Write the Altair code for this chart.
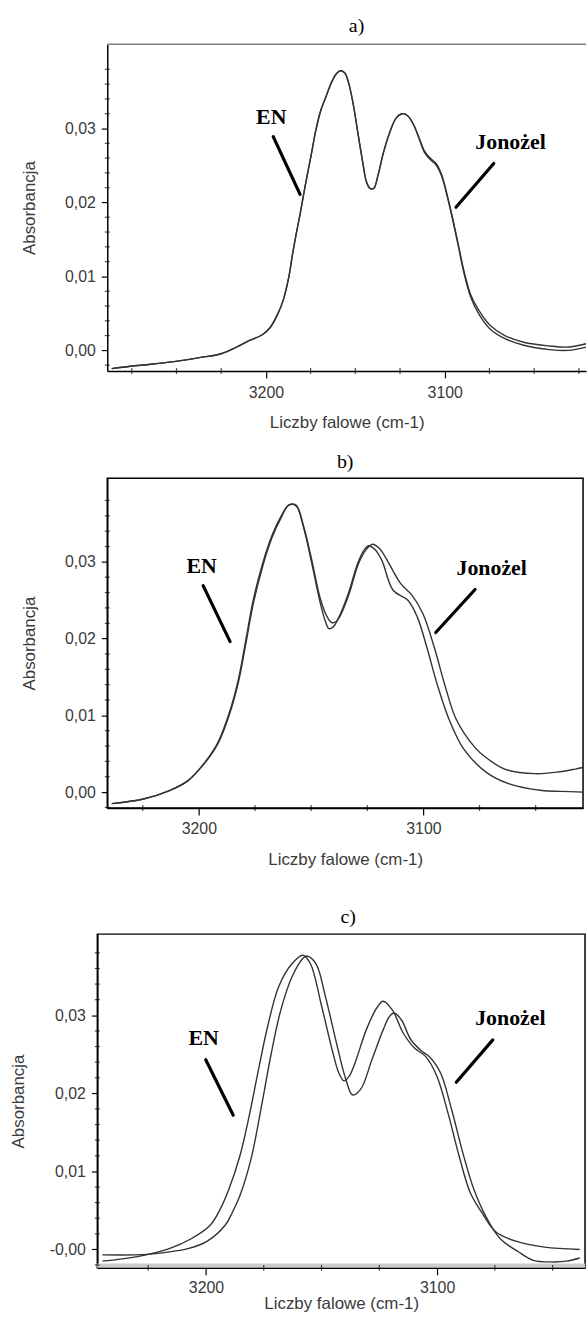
import altair as alt
import pandas as pd

# ---------------- data ----------------
# Panel a
A_WN1 = [3286.2, 3275.7, 3264.3, 3250.3, 3237.2, 3225.1, 3216.4, 3209.1, 3201.8, 3197.6, 3193.4, 3190.3,
         3187.2, 3185.1, 3183.1, 3180.9, 3178.9, 3176.8, 3174.7, 3172.2, 3169.5, 3166.4, 3163.2, 3160.6,
         3158.4, 3155.9, 3153.9, 3151.4, 3148.7, 3145.9, 3143.8, 3141.8, 3139.7, 3137.2, 3134.1, 3131.0,
         3127.2, 3123.7, 3120.6, 3117.4, 3114.3, 3111.2, 3108.1, 3104.9, 3101.8, 3098.7, 3095.6, 3092.4,
         3089.3, 3085.6, 3080.9, 3074.7, 3066.4, 3055.9, 3041.4, 3030.9, 3020.9]
A_AB1 = [-0.00246, -0.00215, -0.00188, -0.00148, -0.00098, -0.00045, 0.00045, 0.00134, 0.00215, 0.0031,
         0.0049, 0.0068, 0.0099, 0.0130, 0.0157, 0.0184, 0.0211, 0.0238, 0.0264, 0.0296, 0.0323, 0.0343,
         0.0363, 0.0374, 0.0378, 0.0375, 0.0363, 0.0336, 0.0296, 0.0255, 0.0228, 0.0219, 0.0219, 0.0238,
         0.0269, 0.0293, 0.0314, 0.0320, 0.0317, 0.0305, 0.0287, 0.0269, 0.0260, 0.0253, 0.0238, 0.0211,
         0.0179, 0.0143, 0.0108, 0.0076, 0.0054, 0.0034, 0.0020, 0.0011, 0.0006, 0.00045, 0.0009]
A_WN2 = [3286.2, 3275.7, 3264.3, 3250.3, 3237.2, 3225.1, 3216.4, 3209.1, 3201.8, 3197.6, 3193.4, 3190.3,
         3187.2, 3185.1, 3183.1, 3180.9, 3178.9, 3176.8, 3174.7, 3172.2, 3169.5, 3166.4, 3163.2, 3160.6,
         3158.4, 3155.9, 3153.9, 3151.4, 3148.7, 3145.9, 3143.8, 3141.8, 3139.7, 3137.2, 3134.1, 3131.0,
         3127.2, 3123.7, 3120.6, 3117.4, 3114.3, 3111.2, 3108.1, 3104.9, 3101.8, 3098.7, 3095.6, 3092.4,
         3089.3, 3085.6, 3080.9, 3074.7, 3066.4, 3055.9, 3041.4, 3030.9, 3020.9]
A_AB2 = [-0.00246, -0.00215, -0.00188, -0.00148, -0.00098, -0.00045, 0.00045, 0.00134, 0.00215, 0.0031,
         0.0049, 0.0068, 0.0099, 0.0130, 0.0157, 0.0184, 0.0211, 0.0238, 0.0264, 0.0296, 0.0323, 0.0343,
         0.0363, 0.0374, 0.0378, 0.0375, 0.0363, 0.0336, 0.0296, 0.0255, 0.0228, 0.0219, 0.0219, 0.0238,
         0.0269, 0.0293, 0.0314, 0.0320, 0.0317, 0.0305, 0.0286, 0.0267, 0.0258, 0.0251, 0.0236, 0.0209,
         0.0177, 0.0141, 0.0105, 0.0073, 0.0049, 0.0029, 0.0016, 0.0007, 0.0001, 0.0000, 0.00045]

# Panel b
B_WN1 = [3238.8, 3224.7, 3213.1, 3204.8, 3197.3, 3191.5, 3186.5, 3182.4, 3179.1, 3175.8, 3171.6, 3167.5,
         3163.3, 3160.0, 3156.7, 3153.4, 3150.0, 3145.9, 3143.6, 3142.1, 3140.3, 3137.6, 3133.4, 3129.3,
         3126.5, 3124.3, 3121.6, 3118.5, 3113.5, 3106.9, 3102.7, 3098.6, 3093.6, 3088.6, 3082.0, 3072.1,
         3062.1, 3047.2, 3038.9, 3028.9]
B_AB1 = [-0.0015, -0.0009, 0.0002, 0.0015, 0.0039, 0.0065, 0.0103, 0.0147, 0.0198, 0.0250, 0.0298, 0.0334,
         0.0360, 0.0374, 0.0373, 0.0345, 0.0302, 0.0246, 0.0222, 0.0213, 0.0215, 0.0228, 0.0259, 0.0298,
         0.0315, 0.0321, 0.0316, 0.0302, 0.0263, 0.0250, 0.0228, 0.0190, 0.0138, 0.0095, 0.0056, 0.0026,
         0.0011, 0.0002, 0.0001, 0.0000]
B_WN2 = [3238.8, 3224.7, 3213.1, 3204.8, 3197.3, 3191.5, 3186.5, 3182.4, 3179.1, 3175.8, 3171.6, 3167.5,
         3163.3, 3160.0, 3156.7, 3153.4, 3150.0, 3145.9, 3142.8, 3140.9, 3139.0, 3137.0, 3133.0, 3129.0,
         3125.5, 3122.7, 3119.8, 3116.9, 3110.2, 3105.2, 3100.3, 3095.3, 3090.3, 3085.4, 3077.0, 3072.1,
         3063.8, 3050.5, 3040.5, 3032.3, 3028.9]
B_AB2 = [-0.0015, -0.0009, 0.0002, 0.0015, 0.0038, 0.0063, 0.0100, 0.0143, 0.0193, 0.0245, 0.0294, 0.0331,
         0.0358, 0.0374, 0.0374, 0.0347, 0.0306, 0.0252, 0.0228, 0.0221, 0.0222, 0.0230, 0.0259, 0.0297,
         0.0316, 0.0323, 0.0318, 0.0306, 0.0272, 0.0257, 0.0233, 0.0190, 0.0138, 0.0095, 0.0058, 0.0045,
         0.0030, 0.0024, 0.0026, 0.0030, 0.0032]

# Panel c
C_WN1 = [3244.8, 3230.3, 3215.9, 3206.2, 3198.2, 3194.1, 3190.1, 3185.3, 3181.3, 3177.3, 3173.3, 3168.5,
         3162.8, 3158.0, 3154.8, 3149.9, 3145.1, 3142.5, 3140.3, 3138.0, 3135.5, 3130.7, 3126.0, 3123.4,
         3119.4, 3114.6, 3109.8, 3104.9, 3100.1, 3095.3, 3090.5, 3085.7, 3080.8, 3074.4, 3064.8, 3053.5,
         3038.3]
C_AB1 = [-0.0015, -0.00096, 0.0001, 0.0014, 0.0031, 0.0050, 0.0077, 0.0120, 0.0171, 0.0230, 0.0286, 0.0337,
         0.0366, 0.0377, 0.0366, 0.0311, 0.0252, 0.0226, 0.0216, 0.0222, 0.0239, 0.0281, 0.0310, 0.0318,
         0.0307, 0.0277, 0.0258, 0.0247, 0.0222, 0.0175, 0.0120, 0.0073, 0.0048, 0.0022, 0.00096, 0.0003,
         0.0000]
C_WN2 = [3244.8, 3231.0, 3220.7, 3207.8, 3199.8, 3191.7, 3188.5, 3185.3, 3180.5, 3175.7, 3171.7, 3167.6,
         3162.8, 3158.0, 3156.4, 3152.4, 3148.3, 3143.5, 3139.5, 3136.6, 3133.1, 3128.2, 3123.4, 3120.5,
         3118.6, 3115.4, 3111.4, 3106.6, 3103.3, 3098.5, 3093.7, 3088.9, 3084.1, 3079.2, 3072.8, 3064.8,
         3058.3, 3050.3, 3043.9, 3038.3]
C_AB2 = [-0.0007, -0.0007, -0.0005, 0.0001, 0.0010, 0.0031, 0.0048, 0.0069, 0.0116, 0.0188, 0.0252, 0.0307,
         0.0349, 0.0373, 0.0376, 0.0366, 0.0324, 0.0264, 0.0218, 0.0198, 0.0205, 0.0243, 0.0281, 0.0299,
         0.0303, 0.0294, 0.0269, 0.0254, 0.0247, 0.0226, 0.0179, 0.0124, 0.0077, 0.0044, 0.0014, -0.0003,
         -0.0014, -0.0016, -0.0015, -0.0011]

# Annotations: label, text position, pointer line start/end (wavenumber, absorbance)
LABELS = ["EN", "Jonożel"]
A_TEXT_WN = [3197.0, 3063.2]
A_TEXT_AB = [0.0316, 0.0282]
A_LINE = [(3195.9, 0.0289, 3180.9, 0.0211), (3072.6, 0.02527, 3093.7, 0.01935)]
B_TEXT_WN = [3198.8, 3069.6]
B_TEXT_AB = [0.0295, 0.0292]
B_LINE = [(3198.1, 0.0269, 3186.1, 0.0196), (3077.0, 0.0264, 3094.5, 0.0208)]
C_TEXT_WN = [3201.0, 3068.3]
C_TEXT_AB = [0.0271, 0.0296]
C_LINE = [(3200.1, 0.0243, 3188.2, 0.0172), (3075.9, 0.02685, 3091.7, 0.02142)]

# axis ranges and ticks
A_XDOM = [3021.0, 3288.7]
A_YDOM = [-0.00278, 0.0414]
B_XDOM = [3028.9, 3240.8]
B_YDOM = [-0.00207, 0.0409]
C_XDOM = [3036.0, 3247.0]
C_YDOM = [-0.00236, 0.0404]
X_MAJOR = [3100, 3200]
Y_MAJOR = [0.0, 0.01, 0.02, 0.03]

TITLE_X = "Liczby falowe (cm-1)"
TITLE_Y = "Absorbancja"

CURVE = "#333333"
TXT = "#3a3a3a"
Y_FMT = "replace(format(datum.value, '.2f'), '.', ',')"


def x_minor(dom):
    return [v for v in range(3000, 3301, 25) if dom[0] <= v <= dom[1] and v % 100 != 0]


def y_minor(dom):
    vals = [round(i * 0.002, 4) for i in range(-2, 22) if i % 5 != 0]
    return [v for v in vals if dom[0] <= v <= dom[1]]


def panel(title, tdx, toff, wn1, ab1, wn2, ab2, xdom, ydom, tw, tab, lines, w, h,
          lpad, tpad, ytpad=26, minus_zero=False, strip=False, open_frame=False):
    df = pd.concat([
        pd.DataFrame({"wn": wn1, "ab": ab1, "s": "1"}),
        pd.DataFrame({"wn": wn2, "ab": ab2, "s": "2"}),
    ])
    ylab = f"datum.value == 0 ? '-0,00' : {Y_FMT}" if minus_zero else Y_FMT
    xaxis = alt.Axis(
        values=X_MAJOR, format="d", tickSize=7, grid=False, title=TITLE_X,
        labelOverlap=False, labelFlush=False,
        titleFont="Liberation Sans", titleFontSize=17, titleFontWeight="normal", titleColor=TXT,
        labelFont="Liberation Sans", labelFontSize=16, labelColor=TXT, labelPadding=lpad, titlePadding=tpad,
        domainColor="black", domainWidth=1.5, tickColor="black", tickWidth=1.2)
    yaxis = alt.Axis(
        values=Y_MAJOR, labelExpr=ylab, tickSize=6, grid=False, title=TITLE_Y,
        labelOverlap=False, labelFlush=False,
        titleFont="Liberation Sans", titleFontSize=17, titleFontWeight="normal", titleColor=TXT,
        labelFont="Liberation Sans", labelFontSize=16, labelColor=TXT, labelPadding=6, titlePadding=ytpad,
        domainColor="black", domainWidth=1.5, tickColor="black", tickWidth=1.2)
    xs = alt.Scale(domain=xdom, reverse=True, nice=False, zero=False)
    ys = alt.Scale(domain=ydom, nice=False, zero=False)

    curves = alt.Chart(df).mark_line(interpolate="catmull-rom", color=CURVE, strokeWidth=1.4, clip=True).encode(
        x=alt.X("wn:Q", scale=xs, axis=xaxis),
        y=alt.Y("ab:Q", scale=ys, axis=yaxis),
        detail="s:N",
    )
    # minor ticks along the axes
    ymdf = pd.DataFrame({"v": y_minor(ydom), "e": xdom[1]})
    ymin_ticks = alt.Chart(ymdf).mark_tick(orient="horizontal", size=5, thickness=1.2, color="black").encode(
        x=alt.X("e:Q", scale=xs), y=alt.Y("v:Q", scale=ys))
    xmdf = pd.DataFrame({"v": x_minor(xdom), "e": ydom[0]})
    xmin_ticks = alt.Chart(xmdf).mark_tick(orient="vertical", size=6, thickness=1.2, color="black").encode(
        x=alt.X("v:Q", scale=xs), y=alt.Y("e:Q", scale=ys))

    ldf = pd.DataFrame({
        "x1": [l[0] for l in lines], "y1": [l[1] for l in lines],
        "x2": [l[2] for l in lines], "y2": [l[3] for l in lines],
    })
    rules = alt.Chart(ldf).mark_rule(color="black", strokeWidth=3.2, strokeCap="round").encode(
        x=alt.X("x1:Q", scale=xs), y=alt.Y("y1:Q", scale=ys), x2="x2:Q", y2="y2:Q")
    tdf = pd.DataFrame({"wn": tw, "ab": tab, "t": LABELS})
    texts = alt.Chart(tdf).mark_text(font="Liberation Serif", fontWeight="bold", fontSize=22,
                                     color="black", align="center", baseline="middle").encode(
        x=alt.X("wn:Q", scale=xs), y=alt.Y("ab:Q", scale=ys), text="t:N")
    layers = [curves, ymin_ticks, xmin_ticks, rules, texts]
    if strip:
        sdf = pd.DataFrame({"x1": [xdom[0]], "x2": [xdom[1]], "y1": [ydom[0]], "y2": [-0.0018]})
        band = alt.Chart(sdf).mark_rect(color="#cccccc").encode(
            x=alt.X("x1:Q", scale=xs), x2="x2:Q", y=alt.Y("y1:Q", scale=ys), y2="y2:Q")
        layers = [band] + layers
    if open_frame:
        # grey top border only (the plot runs off the right edge)
        fdf = pd.DataFrame({"x1": [xdom[0]], "x2": [xdom[1]], "y": [ydom[1]]})
        topline = alt.Chart(fdf).mark_rule(color="#808080", strokeWidth=1.5).encode(
            x=alt.X("x1:Q", scale=xs), x2="x2:Q", y=alt.Y("y:Q", scale=ys))
        layers = layers + [topline]
        view = alt.ViewBackground(stroke="transparent")
    else:
        view = alt.ViewBackground(stroke="black", strokeWidth=1.5)
    return alt.layer(*layers).properties(
        width=w, height=h, view=view,
        title=alt.TitleParams(text=title, font="Liberation Serif", fontSize=20, fontWeight="normal",
                              color="black", anchor="middle", frame="group", dx=tdx, offset=toff),
    )


def spacer(w):
    return alt.Chart(pd.DataFrame({"v": [0]})).mark_point(size=0, opacity=0).encode(
        x=alt.value(0), y=alt.value(0)).properties(
        width=w, height=1, view=alt.ViewBackground(stroke="transparent"))


pa = panel("a)", 10, 8, A_WN1, A_AB1, A_WN2, A_AB2, A_XDOM, A_YDOM, A_TEXT_WN, A_TEXT_AB, A_LINE,
           482, 329, lpad=7, tpad=14, open_frame=True)
pb = panel("b)", 0, 6, B_WN1, B_AB1, B_WN2, B_AB2, B_XDOM, B_YDOM, B_TEXT_WN, B_TEXT_AB, B_LINE,
           479, 332, lpad=6, tpad=15)
pc = panel("c)", 7, 7, C_WN1, C_AB1, C_WN2, C_AB2, C_XDOM, C_YDOM, C_TEXT_WN, C_TEXT_AB, C_LINE,
           491, 336, lpad=5, tpad=0, ytpad=22, minus_zero=True, strip=True)

top = alt.vconcat(
    alt.hconcat(spacer(18), pa, spacing=0),
    alt.hconcat(spacer(18), pb, spacing=0),
    spacing=20,
)
chart = alt.vconcat(
    top,
    alt.hconcat(spacer(6), pc, spacing=0),
    spacing=38,
).properties(
    padding={"left": 0, "top": 10, "right": 0, "bottom": 0},
).configure(background="white")

chart.save("out.html", embed_options={"renderer": "svg", "actions": False})
